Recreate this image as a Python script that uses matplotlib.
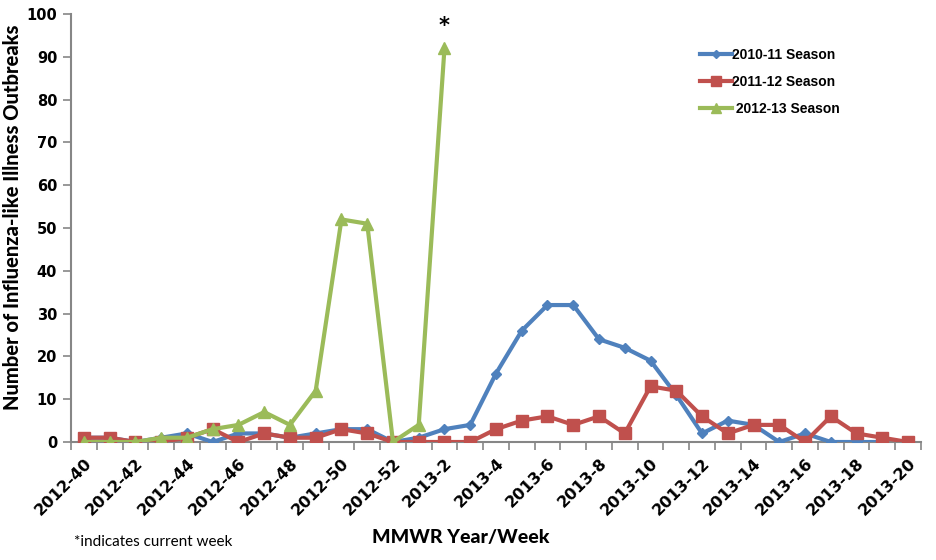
import matplotlib
matplotlib.use("Agg")
import matplotlib.pyplot as plt
import numpy as np

plt.rcParams['font.family'] = ['DejaVu Sans']

# semanas MMWR 2012-40 .. 2013-20
semanas = ["2012-%d" % w for w in range(40, 53)] + ["2013-%d" % w for w in range(1, 21)]

temporada_2010_11 = [1, 1, 0, 1, 2, 0, 2, 2, 1, 2, 3, 3, 0, 1, 3, 4, 16, 26, 32, 32,
                     24, 22, 19, 11, 2, 5, 4, 0, 2, 0, 0, 0, None]
temporada_2011_12 = [1, 1, 0, 0, 1, 3, 0, 2, 1, 1, 3, 2, 0, 0, 0, 0, 3, 5, 6, 4,
                     6, 2, 13, 12, 6, 2, 4, 4, 0, 6, 2, 1, 0]
temporada_2012_13 = [0, 0, 0, 1, 1, 3, 4, 7, 4, 12, 52, 51, 0, 4, 92]

azul = '#4F81BD'
vermelho = '#C0504D'
verde = '#9BBB59'
cinza = '#868686'

fig = plt.figure(figsize=(9.36, 5.6), dpi=100)
ax = fig.add_axes([0.0759, 0.2107, 0.908, 0.7643])

x = np.arange(len(semanas))

def to_arr(v):
    return np.array([np.nan if a is None else a for a in v], dtype=float)

ax.plot(x, to_arr(temporada_2010_11), color=azul, lw=3, marker='D', ms=5.5,
        label='2010-11 Season', zorder=3)
ax.plot(x, to_arr(temporada_2011_12), color=vermelho, lw=3, marker='s', ms=9,
        label='2011-12 Season', zorder=4)
ax.plot(np.arange(len(temporada_2012_13)), temporada_2012_13, color=verde, lw=3,
        marker='^', ms=9, label=' 2012-13 Season', zorder=5)

ax.set_xlim(-0.5, len(semanas) - 0.5)
ax.set_ylim(0, 100)

# eixos estilo excel
for lado in ['top', 'right']:
    ax.spines[lado].set_visible(False)
for lado in ['left', 'bottom']:
    ax.spines[lado].set_color(cinza)
    ax.spines[lado].set_linewidth(1.5)

ax.set_yticks(range(0, 101, 10))
ax.set_yticklabels([str(v) for v in range(0, 101, 10)], fontsize=10.5, fontweight='bold')
ax.tick_params(axis='y', direction='out', length=6, color=cinza, width=1.2, pad=4)

ax.set_xticks(x[::2])
ax.set_xticklabels(semanas[::2], rotation=45, ha='right', va='top',
                   rotation_mode='anchor', fontsize=11.5, fontweight='bold')
ax.set_xticks(np.arange(len(semanas) + 1) - 0.5, minor=True)
ax.tick_params(axis='x', which='major', length=0, pad=10)
ax.tick_params(axis='x', which='minor', direction='out', length=6, color=cinza, width=1.2)

ax.set_ylabel('Number of Influenza-like Illness Outbreaks', fontsize=14.5,
              fontweight='black', family=['Lato', 'DejaVu Sans'])
ax.yaxis.set_label_coords(-0.058, 0.525)
fig.text(0.492, 0.03, 'MMWR Year/Week', fontsize=14, fontweight='black',
         family=['Lato', 'DejaVu Sans'], ha='center')
fig.text(0.079, 0.025, '*indicates current week', fontsize=11,
         family=['Lato', 'DejaVu Sans'])

# asterisco na semana atual
ax.annotate('*', xy=(14, 92), xytext=(0, 9), textcoords='offset points',
            ha='center', va='bottom', fontsize=15, fontweight='bold')

leg = ax.legend(loc='upper left', bbox_to_anchor=(0.725, 0.95), frameon=False,
                prop={'weight': 'bold', 'size': 10, 'family': 'Liberation Sans'},
                handlelength=2.3, labelspacing=0.95, handletextpad=0.05, markerscale=0.75)

fig.savefig('out.png', dpi=100)
